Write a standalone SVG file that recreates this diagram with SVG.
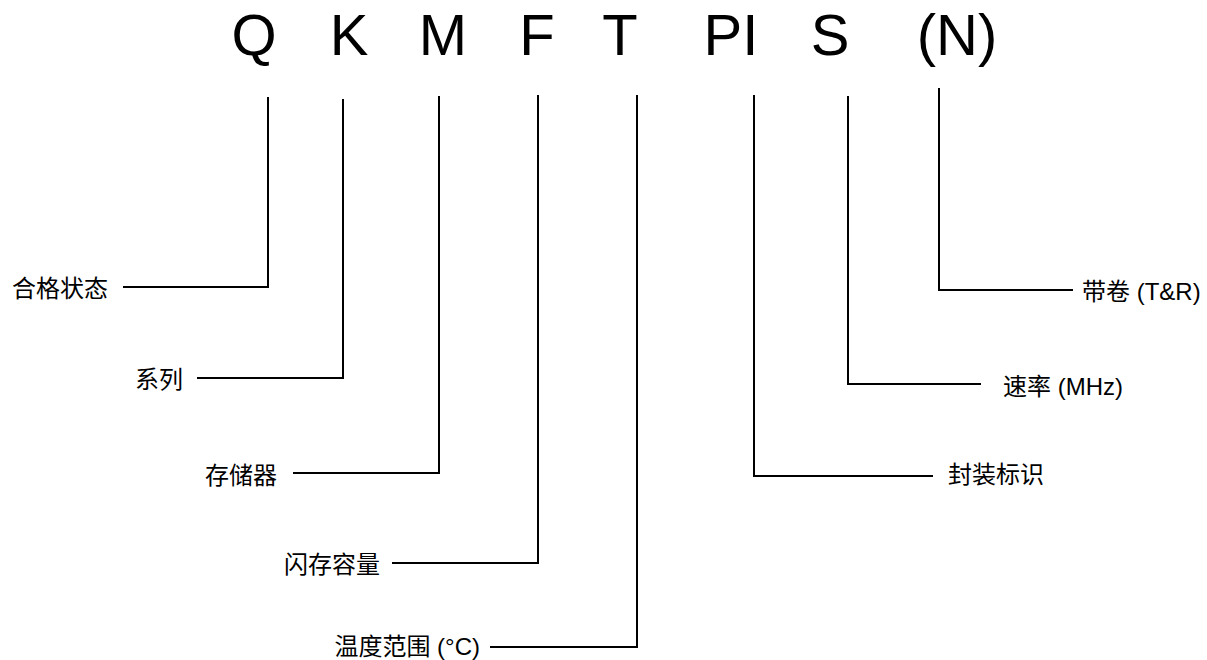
<svg xmlns="http://www.w3.org/2000/svg" width="1207" height="660" viewBox="0 0 1207 660">
<style>
.code{font-family:"Liberation Sans","Noto Sans CJK SC",sans-serif;font-size:58px;fill:#000;text-anchor:middle}
.lbl{font-family:"Liberation Sans","Noto Sans CJK SC",sans-serif;font-size:24px;fill:#000}
.l{text-anchor:end}
.conn path{fill:none;stroke:#000;stroke-width:2}
</style>
<rect width="1207" height="660" fill="#fff"/>
<g id="code-letters">
<text class="code" x="254" y="55">Q</text>
<text class="code" x="349" y="55">K</text>
<text class="code" x="443" y="55">M</text>
<text class="code" x="537" y="55">F</text>
<text class="code" x="620" y="55">T</text>
<text class="code" x="731" y="55">PI</text>
<text class="code" x="830" y="55">S</text>
<text class="code" x="957" y="55">(N)</text>
</g>
<g class="conn" id="connectors">
<path d="M268,97 V287 H123"/>
<path d="M343,99 V378 H197"/>
<path d="M439,96 V473 H293"/>
<path d="M538,95 V563 H392"/>
<path d="M637,95 V647 H490"/>
<path d="M754,95 V476 H933"/>
<path d="M848,96 V384 H981"/>
<path d="M939,88 V290 H1073"/>
</g>
<g id="n-qual"><text class="lbl l" x="108" y="297">合格状态</text></g>
<g id="n-series"><text class="lbl l" x="183" y="388">系列</text></g>
<g id="n-memory"><text class="lbl l" x="277" y="484">存储器</text></g>
<g id="n-flash"><text class="lbl l" x="380" y="573">闪存容量</text></g>
<g id="n-temp"><text class="lbl l" x="480" y="655">温度范围 (°C)</text></g>
<g id="n-pkg"><text class="lbl" x="948" y="483">封装标识</text></g>
<g id="n-speed"><text class="lbl" x="1003" y="395">速率 (MHz)</text></g>
<g id="n-tr"><text class="lbl" x="1082" y="300">带卷 (T&amp;R)</text></g>
</svg>
